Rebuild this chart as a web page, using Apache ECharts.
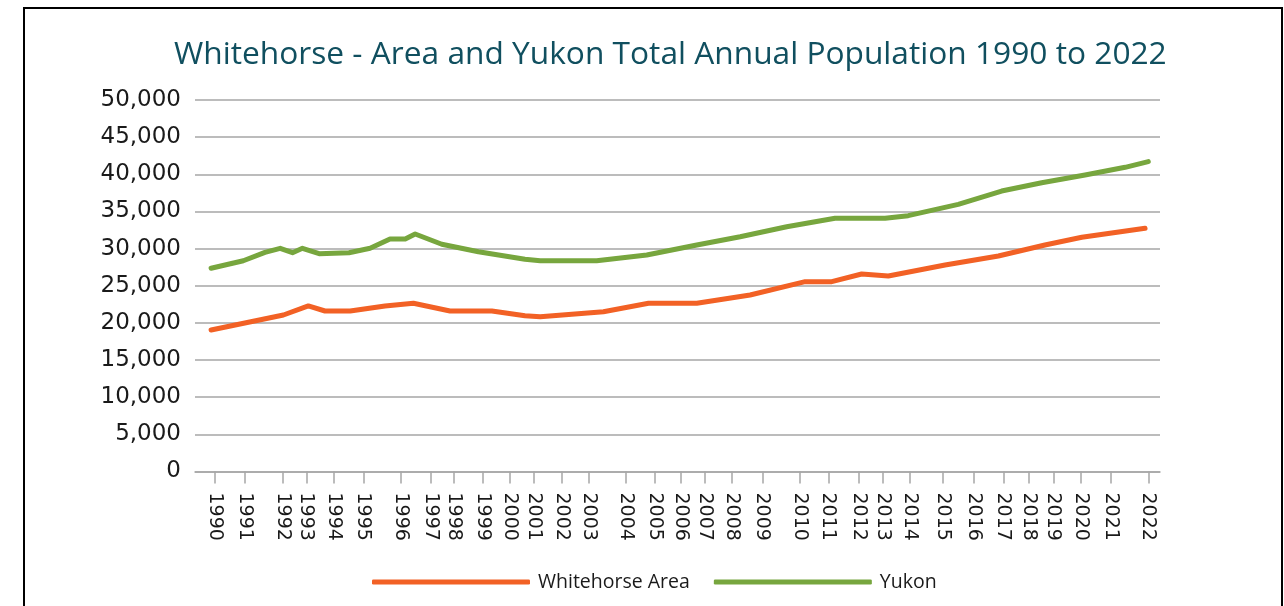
<!DOCTYPE html>
<html>
<head>
<meta charset="utf-8">
<script src="https://cdn.jsdelivr.net/npm/echarts@6/dist/echarts.min.js"></script>
<style>
  html, body { margin: 0; padding: 0; background: #fff; }
  #frame { position: absolute; left: 23px; top: 7px; width: 1260px; height: 640px; border: 2px solid #000; box-sizing: border-box; }
  #chart { position: absolute; left: 0; top: 0; width: 1284px; height: 606px; }
</style>
</head>
<body>
<div id="frame"></div>
<div id="chart"></div>
<script>
// X positions are decimal dates of the observations
const titleText = 'Whitehorse - Area and Yukon Total Annual Population 1990 to 2022';
const seriesNames = ['Whitehorse Area', 'Yukon'];

const tickLabels = ['1990','1991','1992','1993','1994','1995','1996','1997','1998','1999','2000','2001','2002','2003','2004','2005','2006','2007','2008','2009','2010','2011','2012','2013','2014','2015','2016','2017','2018','2019','2020','2021','2022'];
const tickPos = [1990.14,1991.14,1992.45,1993.25,1994.20,1995.20,1996.49,1997.50,1998.28,1999.28,2000.20,2001.03,2001.98,2002.89,2004.17,2005.17,2006.04,2006.86,2007.80,2008.83,2010.12,2011.08,2012.11,2012.93,2013.87,2014.98,2016.06,2017.06,2017.94,2018.77,2019.70,2020.73,2022.01];

const whitehorseX = [1990.00,1992.47,1993.32,1993.89,1994.75,1995.94,1996.91,1998.16,1999.59,2000.72,2001.24,2003.40,2004.94,2006.59,2008.41,2010.29,2011.20,2012.22,2013.13,2015.07,2016.89,2018.48,2019.74,2021.90];
const whitehorseY = [19040,21060,22280,21600,21600,22280,22640,21600,21600,20970,20840,21510,22640,22640,23760,25550,25550,26580,26310,27790,29010,30490,31520,32730];

const yukonX = [1990.00,1991.10,1991.84,1992.36,1992.78,1993.12,1993.69,1994.71,1995.43,1996.11,1996.63,1996.97,1997.88,1999.13,2000.72,2001.24,2003.17,2004.88,2006.59,2008.07,2009.66,2011.31,2012.11,2013.02,2013.81,2015.52,2017.00,2018.37,2019.85,2021.22,2022.01];
const yukonY = [27350,28370,29500,30040,29450,30040,29310,29450,30040,31290,31290,31970,30580,29580,28560,28370,28370,29140,30490,31600,32950,34080,34080,34080,34430,35960,37750,38870,39910,40940,41700];

const yMin = 0, yMax = 50000, yStep = 5000;

function zip(xs, ys) { return xs.map((x, i) => [x, ys[i]]); }
function labelFor(v) {
  let best = 0, d = Infinity;
  tickPos.forEach((p, i) => { const dd = Math.abs(p - v); if (dd < d) { d = dd; best = i; } });
  return tickLabels[best];
}

const chart = echarts.init(document.getElementById('chart'));
chart.setOption({
  animation: false,
  backgroundColor: 'transparent',
  title: {
    text: titleText,
    left: 169,
    top: 34,
    textStyle: { fontFamily: 'Open Sans', fontWeight: 'normal', fontSize: 31.7, color: '#104f5f' }
  },
  legend: {
    left: 367,
    top: 567,
    itemGap: 24,
    itemWidth: 158,
    itemHeight: 5,
    icon: 'roundRect',
    textStyle: { fontFamily: 'Open Sans', fontSize: 19.5, color: '#1a1a1a', padding: [0, 0, 0, 3] },
    data: seriesNames
  },
  grid: { left: 195, right: 124, top: 100, bottom: 134.5 },
  xAxis: {
    type: 'value',
    min: 1989.45,
    max: 2022.41,
    splitLine: { show: false },
    axisLine: { lineStyle: { color: '#a6a6a6', width: 1.5 } },
    axisTick: { show: true, customValues: tickPos, length: 12, lineStyle: { color: '#a6a6a6', width: 1.5 } },
    axisLabel: {
      customValues: tickPos,
      rotate: -90,
      margin: 21,
      fontFamily: 'DejaVu Sans',
      fontSize: 19,
      color: '#1a1a1a',
      formatter: labelFor
    }
  },
  yAxis: {
    type: 'value',
    min: yMin,
    max: yMax,
    interval: yStep,
    axisLine: { show: false },
    axisTick: { show: false },
    splitLine: { lineStyle: { color: '#a6a6a6', width: 1.5 } },
    axisLabel: {
      margin: 14,
      fontFamily: 'DejaVu Sans',
      fontSize: 23,
      color: '#1a1a1a',
      formatter: v => v.toLocaleString('en-US')
    }
  },
  series: [
    {
      name: seriesNames[0],
      type: 'line',
      data: zip(whitehorseX, whitehorseY),
      symbol: 'none',
      color: '#f26125',
      lineStyle: { width: 5, color: '#f26125', cap: 'round', join: 'round' }
    },
    {
      name: seriesNames[1],
      type: 'line',
      data: zip(yukonX, yukonY),
      symbol: 'none',
      color: '#77a63e',
      lineStyle: { width: 5, color: '#77a63e', cap: 'round', join: 'round' }
    }
  ]
});
</script>
</body>
</html>
